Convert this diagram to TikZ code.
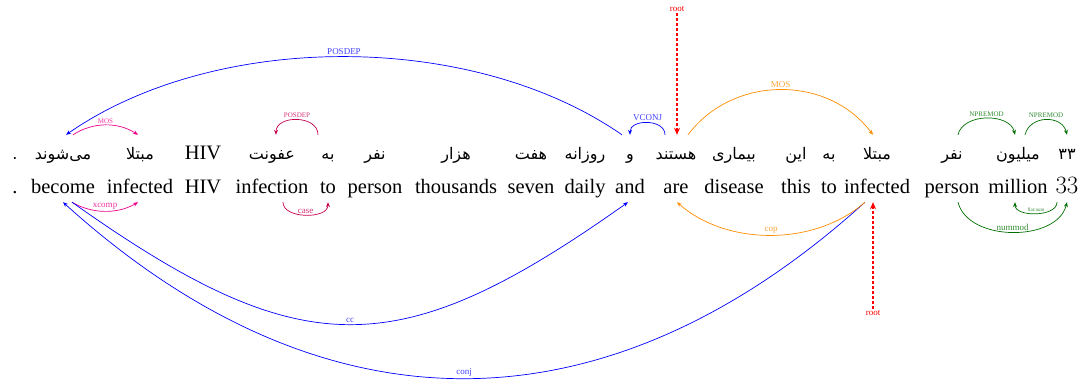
\documentclass[tikz,border=0pt]{standalone}
\usepackage{fontspec}
\setmainfont{Liberation Serif}
\newfontfamily\fafont[Script=Arabic]{DejaVu Sans}
\TeXXeTstate=1
\usetikzlibrary{arrows.meta}
\definecolor{arcpink}{RGB}{236,0,140}
\definecolor{arccrimson}{RGB}{200,0,80}
\definecolor{arcorange}{RGB}{255,140,0}
\definecolor{arcgreen}{RGB}{0,110,0}
\begin{document}
\begin{tikzpicture}[x=1pt,y=1pt,
    en/.style={anchor=base,inner sep=2pt,text height=15pt,text depth=6pt,
        font=\fontsize{20.5}{24}\selectfont},
    fa/.style={anchor=base,inner sep=2pt,text height=23pt,text depth=4pt,
        font=\fafont\fontsize{16}{20}\selectfont},
    dep/.style={-{Stealth[length=5pt,width=4pt]},line width=.7pt},
    lbl/.style={inner sep=1.5pt,font=\fontsize{9}{10}\selectfont},
    tiny/.style={lbl,font=\fontsize{7}{8}\selectfont},
    rootline/.style={red,line width=1.6pt,dash pattern=on 3pt off 2pt,
        -{Stealth[length=7pt,width=6pt]}}]
    \useasboundingbox (0,0) rectangle (1085,388);
    \foreach \i/\x/\fa/\en in {1/15/./.,2/63/می‌شوند/become,3/140/مبتلا/infected,
        4/203/{\rmfamily\fontsize{20.5}{24}\selectfont HIV}/HIV,5/272/عفونت/infection,
        6/328/به/to,7/375/نفر/person,8/456/هزار/thousands,9/531/هفت/seven,
        10/585/روزانه/daily,11/630/و/and,12/676/هستند/are,13/734/بیماری/disease,
        14/796/این/this,15/829/به/to,16/877/مبتلا/infected,17/952/نفر/person,
        18/1018/میلیون/million,19/1067/۳۳/{\fontsize{26}{30}\selectfont$33$}} {
        \node[fa] (fa\i) at (\x,228) {\beginR\fa\endR};
        \node[en] (en\i) at (\x,194) {\en};
    }
    \draw[dep,blue] ([xshift=-8pt]fa11.north) .. controls +(-150,104) and +(150,104) ..
        ([xshift=3pt]fa2.north) node[lbl,midway,above,blue!75] {POSDEP};
    \draw[dep,arcpink] ([xshift=10pt]fa2.north) .. controls +(20,13) and +(-20,13) ..
        ([xshift=-2pt]fa3.north) node[tiny,midway,above,arcpink!80] {MOS};
    \draw[dep,arccrimson] ([xshift=-10pt]fa6.north) .. controls +(0,20) and +(0,20) ..
        ([xshift=4pt]fa5.north) node[tiny,midway,above,arccrimson!80] {POSDEP};
    \draw[dep,blue] ([xshift=-11pt]fa12.north) .. controls +(0,16) and +(0,16) ..
        (fa11.north) node[lbl,midway,above,blue!75] {VCONJ};
    \draw[dep,arcorange] ([xshift=12pt]fa12.north) .. controls +(45,60) and +(-45,60) ..
        ([xshift=-4pt]fa16.north) node[lbl,midway,above,arcorange!80] {MOS};
    \draw[dep,arcgreen] ([xshift=6pt]fa17.north) .. controls +(5,22) and +(-5,22) ..
        ([xshift=-3pt]fa18.north) node[tiny,midway,above,arcgreen!80] {NPREMOD};
    \draw[dep,arcgreen] ([xshift=7pt]fa18.north) .. controls +(5,20) and +(-5,20) ..
        (fa19.north) node[tiny,midway,above,arcgreen!80] {NPREMOD};
    \node[lbl,red] (rootfa) at (677,379) {root};
    \draw[rootline] (rootfa.south) -- (rootfa.south |- fa12.north);
    \draw[dep,arcpink] ([xshift=9pt]en2.south) .. controls +(20,-12) and +(-20,-12) ..
        ([xshift=-2pt]en3.south) node[lbl,midway,above,arcpink!80] {xcomp};
    \draw[dep,arccrimson] ([xshift=11pt]en5.south) .. controls +(0,-17) and +(0,-17) ..
        (en6.south) node[lbl,midway,above,arccrimson!80] {case};
    \draw[dep,blue] ([xshift=9pt]en2.south) .. controls +(230,-163) and +(-230,-163) ..
        ([xshift=-2pt]en11.south) node[lbl,midway,above,blue!75] {cc};
    \draw[dep,blue] ([xshift=-12pt]en16.south) .. controls +(-260,-235) and +(260,-235) ..
        (en2.south) node[lbl,midway,above,blue!75] {conj};
    \draw[dep,arcorange] ([xshift=-12pt]en16.south) .. controls +(-50,-44) and +(50,-44) ..
        ([xshift=1pt]en12.south) node[lbl,midway,above,arcorange!80] {cop};
    \draw[dep,arcgreen] ([xshift=-10pt]en19.south) .. controls +(0,-15) and +(0,-15) ..
        ([xshift=-3pt]en18.south) node[tiny,midway,above,arcgreen!80,font=\fontsize{5}{6}\selectfont] {flat:num};
    \draw[dep,arcgreen] ([xshift=6pt]en17.south) .. controls +(10,-40) and +(-10,-40) ..
        (en19.south) node[lbl,midway,above,arcgreen!80] {nummod};
    \node[lbl,red] (rooten) at (873,75) {root};
    \draw[rootline] (rooten.north) -- (rooten.north |- en16.south);
\end{tikzpicture}
\end{document}
